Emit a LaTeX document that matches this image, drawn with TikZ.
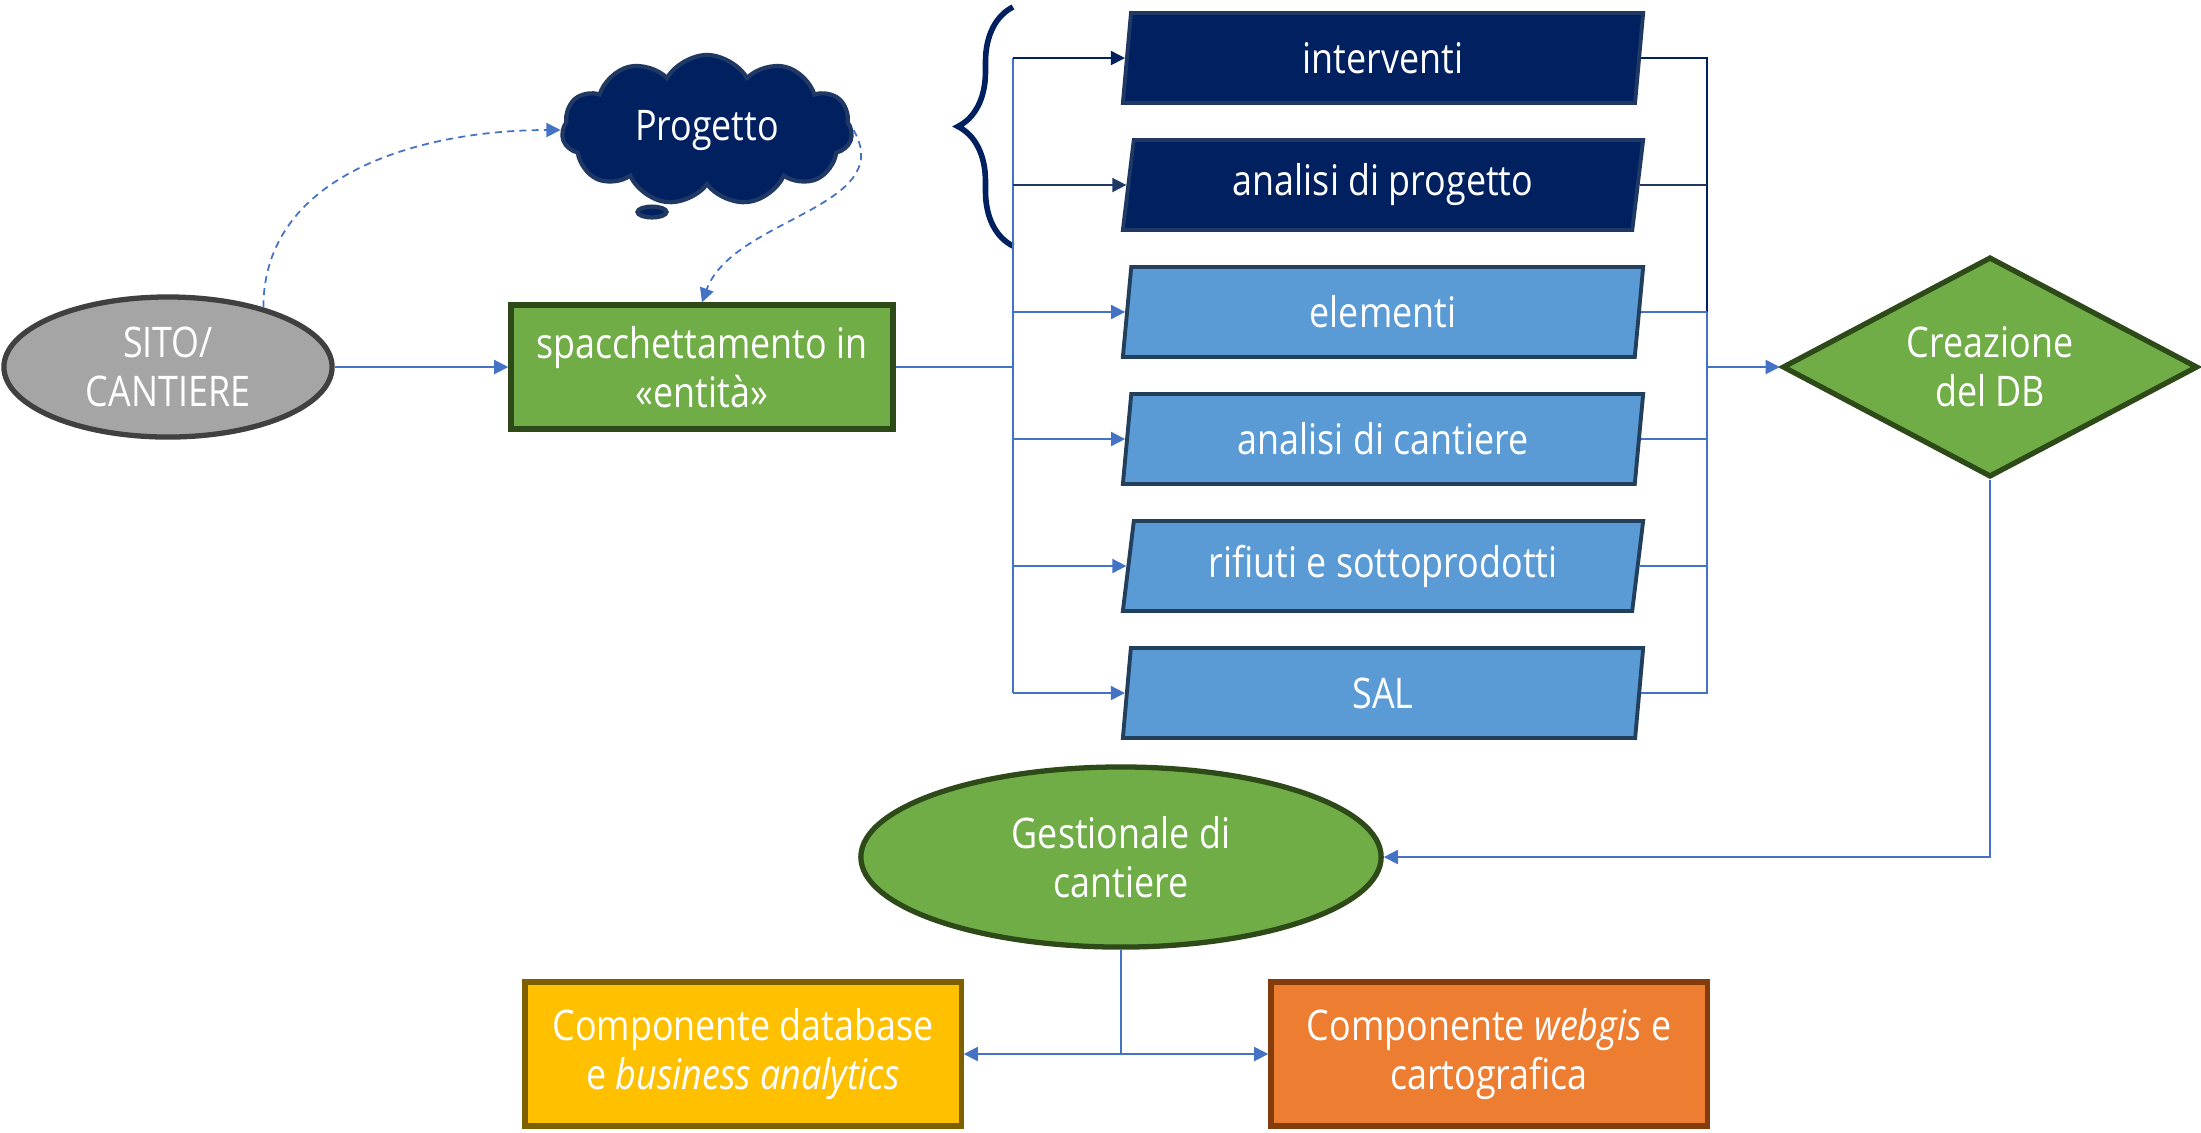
\documentclass[tikz,border=0pt]{standalone}
\usepackage{fontspec}
\setmainfont{Open Sans}[FakeStretch=0.85]
\usetikzlibrary{shapes.geometric,shapes.symbols,shapes.callouts,arrows.meta,decorations.pathreplacing}

\definecolor{navy}{HTML}{002060}
\definecolor{navyline}{HTML}{1F3864}
\definecolor{skyfill}{HTML}{5B9BD5}
\definecolor{skyline}{HTML}{223F5C}
\definecolor{leaf}{HTML}{70AD47}
\definecolor{leafline}{HTML}{2D4A18}
\definecolor{stone}{HTML}{A5A5A5}
\definecolor{stoneline}{HTML}{404040}
\definecolor{gold}{HTML}{FFC000}
\definecolor{goldline}{HTML}{7F6000}
\definecolor{rust}{HTML}{ED7D31}
\definecolor{rustline}{HTML}{843C0C}
\definecolor{wireblue}{HTML}{4472C4}

\tikzset{
	every node/.style={text=white, font=\fontsize{12}{14}\selectfont, align=center, inner sep=0pt},
	entita/.style={trapezium, trapezium left angle=75.5, trapezium right angle=104.5,
		trapezium stretches body, minimum width=5.2cm, minimum height=0.9cm, line width=1.1pt},
	darkent/.style={entita, fill=navy, draw=navyline},
	lightent/.style={entita, fill=skyfill, draw=skyline},
	block/.style={line width=1.5pt},
	link/.style={draw=wireblue, line width=0.5pt},
	arrowed/.style={-{Triangle[length=4pt,width=4pt]}},
}

\begin{document}
\begin{tikzpicture}[x=0.01cm, y=-0.01cm]
	\useasboundingbox (0,0) rectangle (2201,1132);
	\fill[white] (0,0) rectangle (2201,1132);

	\node[ellipse, block, fill=stone, draw=stoneline, minimum width=3.28cm, minimum height=1.4cm] (sito) at (168,367) {SITO/\\CANTIERE};
	\node[rectangle, block, fill=leaf, draw=leafline, minimum width=3.82cm, minimum height=1.24cm] (spacch) at (702,367) {spacchettamento in\\«entità»};
	\node[cloud callout, cloud puffs=11, cloud puff arc=120, cloud ignores aspect, fill=navy, draw=navyline, line width=1.2pt,
		minimum width=2.9cm, minimum height=1.5cm, callout absolute pointer={(652,212)}, callout pointer segments=1] (prog) at (707,130) {Progetto};

	\node[darkent] (interv) at (1383,58) {interventi};
	\node[darkent] (anprog) at (1383,185) {analisi di progetto};
	\node[lightent] (elem) at (1383,312) {elementi};
	\node[lightent] (ancant) at (1383,439) {analisi di cantiere};
	\node[lightent] (rifiuti) at (1383,566) {rifiuti e sottoprodotti};
	\node[lightent] (sal) at (1383,693) {SAL};

	\node[diamond, block, aspect=1.9, fill=leaf, draw=leafline, minimum width=4.15cm, minimum height=2.2cm] (db) at (1990,367) {Creazione\\del DB};
	\node[ellipse, block, fill=leaf, draw=leafline, minimum width=5.2cm, minimum height=1.8cm] (gest) at (1121,857) {Gestionale di\\cantiere};
	\node[rectangle, block, fill=gold, draw=goldline, minimum width=4.36cm, minimum height=1.44cm] (dbase) at (743,1054) {Componente database\\e \textit{business analytics}};
	\node[rectangle, block, fill=rust, draw=rustline, minimum width=4.36cm, minimum height=1.44cm] (webgis) at (1489,1054) {Componente \textit{webgis} e\\cartografica};

	\coordinate (busL) at (1013,367);
	\coordinate (busR) at (1707,367);

	\draw[navy, line width=1.6pt, decorate, decoration={brace, amplitude=0.55cm}] (1013,246) -- (1013,7);

	\draw[link, arrowed, dash pattern=on 2pt off 1.5pt] (sito.32) to[out=90, in=180] (prog.west);
	\draw[link, arrowed, dash pattern=on 2pt off 1.5pt] (prog.east) to[out=-60, in=70] (spacch.north);

	\draw[link, arrowed] (sito.east) -- (spacch.west);
	\draw[link] (spacch.east) -- (busL);
	\draw[link] (busL |- interv.left side) -- (busL |- sal.left side);
	\draw[link, arrowed, draw=navy] (busL |- interv.left side) -- (interv.left side);
	\draw[link, arrowed, draw=navyline] (busL |- anprog.left side) -- (anprog.left side);
	\draw[link, arrowed] (busL |- elem.left side) -- (elem.left side);
	\draw[link, arrowed] (busL |- ancant.left side) -- (ancant.left side);
	\draw[link, arrowed] (busL |- rifiuti.left side) -- (rifiuti.left side);
	\draw[link, arrowed] (busL |- sal.left side) -- (sal.left side);

	\draw[link, draw=navy] (interv.right side) -- (busR |- interv.right side) -- (busR |- elem.right side);
	\draw[link, draw=navyline] (anprog.right side) -- (busR |- anprog.right side);
	\draw[link] (elem.right side) -- (busR |- elem.right side);
	\draw[link] (ancant.right side) -- (busR |- ancant.right side);
	\draw[link] (rifiuti.right side) -- (busR |- rifiuti.right side);
	\draw[link] (sal.right side) -- (busR |- sal.right side) -- (busR |- elem.right side);
	\draw[link, arrowed] (busR) -- (db.west);

	\draw[link, arrowed] (db.south) |- (gest.east);
	\draw[link, arrowed] (gest.south) |- (dbase.east);
	\draw[link, arrowed] (gest.south) |- (webgis.west);
\end{tikzpicture}
\end{document}
